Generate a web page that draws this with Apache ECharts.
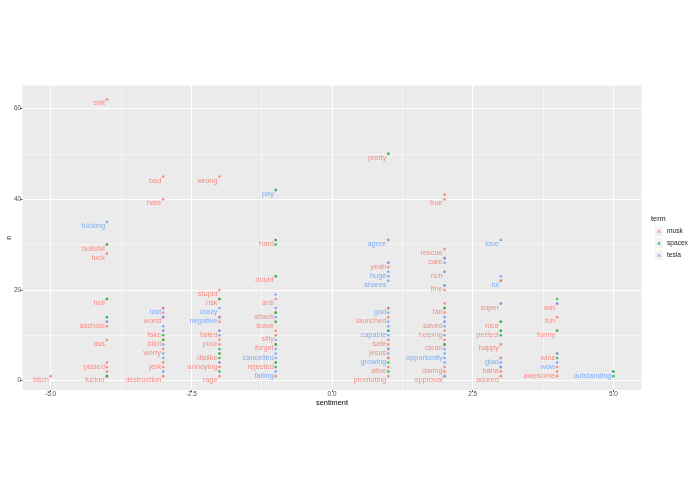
<!DOCTYPE html>
<html>
<head>
<meta charset="utf-8">
<script src="https://cdn.jsdelivr.net/npm/echarts@6/dist/echarts.min.js"></script>
<style>
html,body{margin:0;padding:0;background:#fff;}
#chart{width:695px;height:494px;}
</style>
</head>
<body>
<div id="chart"></div>
<script>
// [sentiment, n, word] ("" = label not drawn)
var muskPoints = [
  [-5,1,'bitch'],
  [-4,62,'shit'],[-4,30,'bullshit'],[-4,28,'fuck'],[-4,18,'hell'],[-4,13,'asshole'],[-4,12,''],[-4,9,'ass'],[-4,4,'pissed'],[-4,3,''],[-4,2,''],[-4,1,'fucker'],
  [-3,45,'bad'],[-3,40,'hate'],[-3,15,''],[-3,14,'worst'],[-3,11,'fake'],[-3,9,'idiot'],[-3,7,'worry'],[-3,4,'jerk'],[-3,3,''],[-3,1,'destruction'],
  [-2,45,'wrong'],[-2,20,'stupid'],[-2,18,'risk'],[-2,13,''],[-2,11,'failed'],[-2,9,'poor'],[-2,8,''],[-2,6,'dislike'],[-2,4,'annoying'],[-2,3,''],[-2,1,'rage'],
  [-1,31,'hard'],[-1,23,'doubt'],[-1,18,'anti'],[-1,15,'attack'],[-1,13,'leave'],[-1,11,''],[-1,10,'silly'],[-1,8,'forget'],[-1,4,'rejected'],[-1,1,''],
  [1,50,'pretty'],[1,26,'yeah'],[1,25,''],[1,14,'launched'],[1,9,'safe'],[1,8,''],[1,7,'jesus'],[1,3,'alive'],[1,1,'promoting'],
  [2,41,''],[2,40,'true'],[2,29,'rescue'],[2,27,'care'],[2,24,'rich'],[2,21,'fine'],[2,20,''],[2,17,''],[2,16,'fair'],[2,15,''],[2,13,'saved'],[2,11,'helping'],[2,9,''],[2,8,'clean'],[2,3,'daring'],[2,2,''],[2,1,'approval'],
  [3,17,'super'],[3,13,'nice'],[3,11,'perfect'],[3,8,'happy'],[3,3,'haha'],[3,2,''],[3,1,'adored'],
  [4,17,'win'],[4,14,'fun'],[4,11,'funny'],[4,6,'wins'],[4,3,''],[4,2,'awesome'],[4,1,'']
];
// musk points drawn above the other terms
var muskTopPoints = [
  [-3,16,''],[-2,14,''],[1,31,''],[1,16,''],[1,5,''],[3,22,''],[3,5,'']
];
var teslaPoints = [
  [-4,35,'fucking'],[-4,13,''],
  [-3,16,'lost'],[-3,14,''],[-3,12,''],[-3,11,''],[-3,8,''],[-3,6,''],[-3,5,''],[-3,2,''],
  [-2,16,'crazy'],[-2,14,'negative'],[-2,11,''],[-2,10,''],[-2,4,''],
  [-1,42,'pay'],[-1,19,''],[-1,16,''],[-1,14,''],[-1,9,''],[-1,7,''],[-1,6,'cancelled'],[-1,5,''],[-1,2,'falling'],
  [1,31,'agree'],[1,26,''],[1,24,'huge'],[1,23,''],[1,22,'shares'],[1,16,'god'],[1,15,''],[1,13,''],[1,12,''],[1,11,'capable'],[1,10,''],[1,7,''],[1,6,''],[1,5,'growing'],
  [2,27,''],[2,26,''],[2,24,''],[2,21,''],[2,14,''],[2,13,''],[2,12,''],[2,10,''],[2,7,''],[2,6,'opportunity'],[2,5,''],[2,4,''],[2,1,''],
  [3,31,'love'],[3,23,''],[3,22,'lol'],[3,17,''],[3,5,'glad'],[3,4,''],[3,3,''],
  [4,17,''],[4,6,''],[4,4,'wow'],
  [5,2,'outstanding']
];
var spacexPoints = [
  [-4,30,''],[-4,18,''],[-4,14,''],[-4,1,''],
  [-3,10,''],[-3,9,''],
  [-2,18,''],[-2,7,''],[-2,6,''],[-2,5,''],[-2,2,''],
  [-1,42,''],[-1,31,''],[-1,30,''],[-1,23,''],[-1,15,''],[-1,13,''],[-1,8,''],[-1,4,''],[-1,3,''],
  [1,50,''],[1,11,''],[1,4,''],[1,2,''],
  [2,16,''],[2,8,''],
  [3,13,''],[3,11,''],[3,10,''],
  [4,18,''],[4,11,''],[4,5,''],
  [5,2,''],[5,1,'']
];
var terms = ['musk','spacex','tesla'];
var xTicks = [-5,-2.5,0,2.5,5];
var xMinorTicks = [-3.75,-1.25,1.25,3.75];
var yTicks = [0,20,40,60];
var yMinorTicks = [10,30,50];

var colors = {musk:'#F8766D', spacex:'#00BA38', tesla:'#619CFF'};
var FONT = 'Liberation Sans, Arial, sans-serif';

function mkSeries(name, data, z) {
  return {
    type:'scatter', name:name, data:data, z:z,
    symbol:'circle', symbolSize:2.6,
    itemStyle:{color:colors[name]},
    silent:true,
    label:{
      show:true, position:'left', distance:0.6, offset:[0,4],
      formatter:function(p){ return p.data[2] || ''; },
      color:colors[name], fontSize:7.4, fontFamily:FONT
    },
    emphasis:{disabled:true}
  };
}

var rich = {};
terms.forEach(function(t){
  rich[t] = {color:colors[t], backgroundColor:'#F2F2F2', width:8, height:10, lineHeight:10, align:'center', fontSize:6, fontFamily:FONT};
});
rich.txt = {color:'#1A1A1A', fontSize:6.6, fontFamily:FONT, padding:[0,0,0,4]};

var xName = 'sentiment', yName = 'n';

var chart = echarts.init(document.getElementById('chart'), null, {renderer:'canvas'});
chart.setOption({
  animation:false,
  backgroundColor:'#FFFFFF',
  title:{text:'term', left:651, top:215, padding:0,
    textStyle:{fontSize:7.4, fontWeight:'normal', color:'#1A1A1A', fontFamily:FONT}},
  legend:{
    data:terms, orient:'vertical', left:650, top:226.5, padding:0,
    itemWidth:0, itemHeight:0, itemGap:1.7, selectedMode:false,
    itemStyle:{color:'rgba(0,0,0,0)', borderWidth:0},
    formatter:function(name){ return '{' + name + '|a}{txt|' + name + '}'; },
    textStyle:{rich:rich, fontSize:6.6, color:'#1A1A1A', fontFamily:FONT}
  },
  grid:{left:22.5, right:53.5, top:85.5, bottom:104, show:true, backgroundColor:'#EBEBEB', borderWidth:0,
    containLabel:false, outerBoundsMode:'none'},
  xAxis:[{
    type:'value', min:-5.5, max:5.5, name:xName, nameLocation:'middle', nameGap:9, nameMoveOverlap:false,
    nameTextStyle:{fontSize:7.4, color:'#000', fontFamily:FONT},
    axisLine:{show:false, onZero:false},
    axisTick:{show:true, length:2, customValues:xTicks, lineStyle:{color:'#333', width:0.8}},
    axisLabel:{customValues:xTicks, margin:1.5, fontSize:6.4, color:'#4D4D4D', fontFamily:FONT,
      formatter:function(v){ return v.toFixed(1); }},
    splitLine:{show:true, lineStyle:{color:'#FFFFFF', width:1}},
    z:1
  },{
    type:'value', min:-5.5, max:5.5, position:'top',
    axisLine:{show:false, onZero:false},
    axisTick:{show:false, customValues:xMinorTicks},
    axisLabel:{show:false, customValues:xMinorTicks},
    splitLine:{show:true, lineStyle:{color:'#FFFFFF', width:0.5}},
    z:0
  }],
  yAxis:[{
    type:'value', min:-2.05, max:65.05, name:yName, nameLocation:'middle', nameGap:10.5, nameMoveOverlap:false,
    nameTextStyle:{fontSize:7.4, color:'#000', fontFamily:FONT},
    axisLine:{show:false, onZero:false},
    axisTick:{show:true, length:2.5, customValues:yTicks, lineStyle:{color:'#333', width:0.8}},
    axisLabel:{customValues:yTicks, margin:1.5, fontSize:6.4, color:'#4D4D4D', fontFamily:FONT},
    splitLine:{show:true, lineStyle:{color:'#FFFFFF', width:1}},
    z:1
  },{
    type:'value', min:-2.05, max:65.05, position:'right',
    axisLine:{show:false, onZero:false},
    axisTick:{show:false, customValues:yMinorTicks},
    axisLabel:{show:false, customValues:yMinorTicks},
    splitLine:{show:true, lineStyle:{color:'#FFFFFF', width:0.5}},
    z:0
  }],
  series:[
    mkSeries('musk', muskPoints, 2),
    mkSeries('tesla', teslaPoints, 3),
    mkSeries('spacex', spacexPoints, 4),
    mkSeries('musk', muskTopPoints, 5)
  ]
});
</script>
</body>
</html>
